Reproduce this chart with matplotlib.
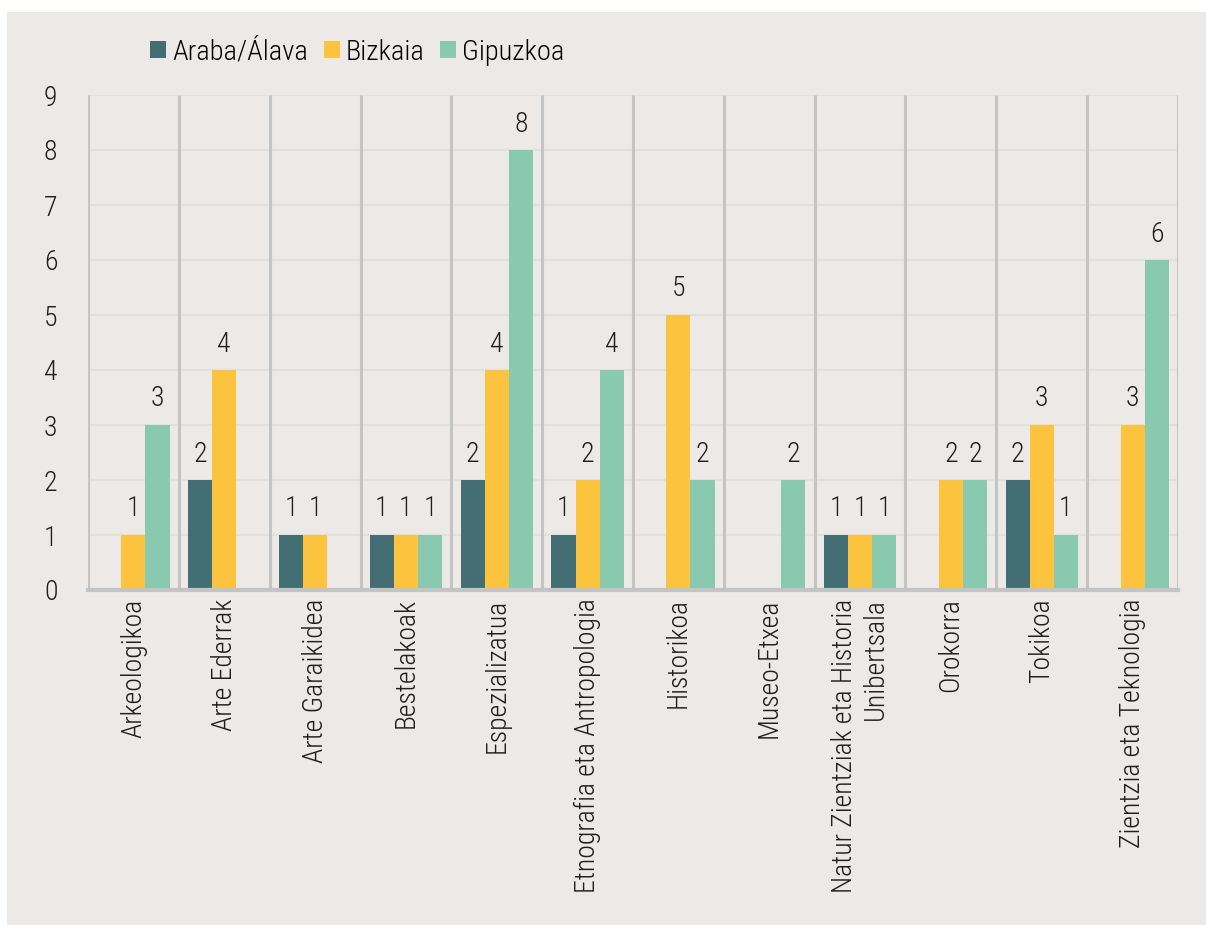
import matplotlib.pyplot as plt
import numpy as np
from matplotlib.patches import Rectangle

categories = ["Arkeologikoa", "Arte Ederrak", "Arte Garaikidea", "Bestelakoak",
              "Espezializatua", "Etnografia eta Antropologia", "Historikoa",
              "Museo-Etxea", "Natur Zientziak eta Historia\nUnibertsala",
              "Orokorra", "Tokikoa", "Zientzia eta Teknologia"]
series = ["Araba/Álava", "Bizkaia", "Gipuzkoa"]
araba = [0, 2, 1, 1, 2, 1, 0, 0, 1, 0, 2, 0]
bizkaia = [1, 4, 1, 1, 4, 2, 5, 0, 1, 2, 3, 3]
gipuzkoa = [3, 0, 0, 1, 8, 4, 2, 2, 1, 2, 1, 6]
colors = ["#436F74", "#FCC33F", "#88C9B0"]

plt.rcParams['font.family'] = ['Roboto Condensed', 'DejaVu Sans Condensed',
                               'Liberation Sans Narrow', 'Roboto', 'DejaVu Sans']
plt.rcParams['font.weight'] = 'light'
bg = "#ECE9E6"
fs = 20
txt = "#1E1E1E"

fig = plt.figure(figsize=(12.06, 9.25), dpi=100, facecolor="white")
fig.patches.append(Rectangle((7 / 1206, 0), 1, 1 - 12 / 925, transform=fig.transFigure,
                             facecolor=bg, edgecolor="none", zorder=-5))
ax = fig.add_axes([88 / 1206, 1 - 590 / 925, 1090 / 1206, 495 / 925])
ax.set_facecolor(bg)

x = np.arange(len(categories))
w = 0.265
for i, (vals, name) in enumerate(zip([araba, bizkaia, gipuzkoa], series)):
    bars = ax.bar(x + (i - 1) * w, vals, w, color=colors[i], label=name, zorder=3)
    for b, v in zip(bars, vals):
        if v > 0:
            ax.annotate(str(v), (b.get_x() + b.get_width() / 2, v), xytext=(0, 9),
                        textcoords="offset points", ha="center", va="bottom",
                        fontsize=fs, color=txt)

ax.set_xlim(-0.5, len(categories) - 0.5)
ax.set_ylim(0, 9)
ax.set_yticks(range(10))
ax.yaxis.grid(True, color="#E2DFDC", lw=1.5, zorder=1)
ax.vlines(np.arange(len(categories) + 1) - 0.5, 0, 9, color="#C4C4C4", lw=2.2, zorder=2)

for s in ["top", "right", "left"]:
    ax.spines[s].set_visible(False)
ax.spines["bottom"].set_color("#C4C4C4")
ax.spines["bottom"].set_linewidth(3)
ax.spines["bottom"].set_zorder(4)

ax.tick_params(axis="y", length=0, pad=22, labelsize=fs, labelcolor=txt)
ax.tick_params(axis="x", length=0, pad=6, labelsize=fs, labelcolor=txt)
ax.set_xticks(x)
ax.set_xticklabels(categories, rotation=90, ma="right")

fig.legend(loc="center left", bbox_to_anchor=(150 / 1206, 1 - 52 / 925), ncol=3,
           frameon=False, fontsize=20.5, handlelength=0.56, handleheight=0.56,
           handletextpad=0.21, columnspacing=0.56, borderpad=0, borderaxespad=0)

fig.savefig("out.png", dpi=100, facecolor="white")
